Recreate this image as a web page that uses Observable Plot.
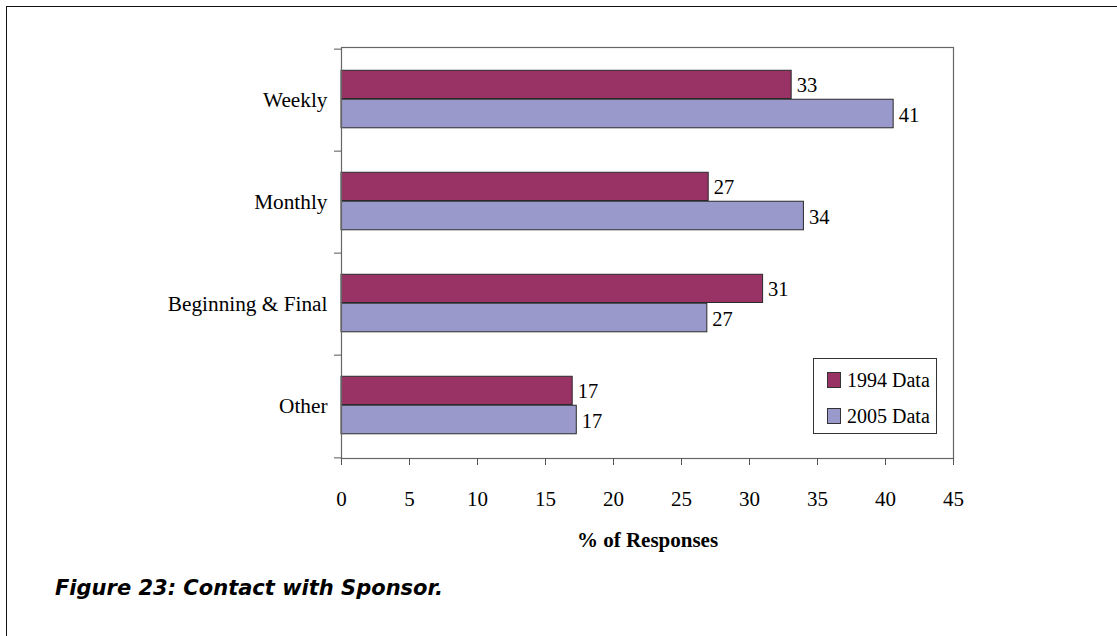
<!DOCTYPE html>
<html><head><meta charset="utf-8">
<script src="https://cdn.jsdelivr.net/npm/d3@7"></script>
<script src="https://cdn.jsdelivr.net/npm/@observablehq/plot@0.6"></script>
<style>
html,body{margin:0;padding:0;background:#fff;overflow:hidden;width:1117px;height:636px}
#wrap{position:relative;width:1117px;height:636px;overflow:hidden}
#border{position:absolute;left:6px;top:6px;width:1200px;height:800px;border:1.5px solid #111;box-sizing:border-box}
#chart{position:absolute;left:0;top:0}
#legend{position:absolute;left:813px;top:358px;width:124px;height:76px;border:1px solid #333;box-sizing:border-box;background:#fff;font-family:"Liberation Serif",serif;font-size:20px;color:#000}
.item{position:absolute;left:0;height:22px;line-height:22px;white-space:nowrap}
.sw{position:absolute;left:13px;top:3px;width:14px;height:16px;border:1px solid #333;box-sizing:border-box}
.lab{position:absolute;left:33px;top:0}
#caption{position:absolute;left:55px;top:575px;font-family:"DejaVu Sans",sans-serif;font-weight:700;font-style:italic;font-size:21px;line-height:26px;color:#000;white-space:nowrap}
</style></head><body>
<div id="wrap"><div id="border"></div><div id="chart"></div><div id="legend"></div><div id="caption"></div></div>
<script>
const categories = ["Weekly", "Monthly", "Beginning & Final", "Other"];
const series = ["1994 Data", "2005 Data"];
const values1994 = [33.1, 27.0, 31.0, 17.0];
const values2005 = [40.6, 34.0, 26.9, 17.3];
const xTicks = [0, 5, 10, 15, 20, 25, 30, 35, 40, 45];
const colors = ["#993366", "#9999CC"];
const xLabel = "% of Responses";
const caption = "Figure 23: Contact with Sponsor.";

const rows1994 = categories.map((c, i) => ({category: c, value: values1994[i]}));
const rows2005 = categories.map((c, i) => ({category: c, value: values2005[i]}));

const W = 1117, H = 570, mt = 47, mb = 112, ml = 341, mr = 164;
const step = (H - mt - mb) / categories.length;
const serif = "Liberation Serif, Times New Roman, serif";

const chart = Plot.plot({
  width: W, height: H,
  marginTop: mt, marginBottom: mb, marginLeft: ml, marginRight: mr,
  style: {fontFamily: serif, fontSize: "21px", color: "#000", background: "transparent"},
  x: {domain: [0, 45]},
  y: {domain: categories, padding: 0},
  marks: [
    Plot.barX(rows1994, {x: "value", y: "category", fill: colors[0], stroke: "#2a2a2a", strokeWidth: 1,
      insetTop: step * 0.207, insetBottom: step * 0.511}),
    Plot.barX(rows2005, {x: "value", y: "category", fill: colors[1], stroke: "#2a2a2a", strokeWidth: 1,
      insetTop: step * 0.489, insetBottom: step * 0.226}),
    Plot.frame({stroke: "#666", strokeWidth: 1.2}),
    Plot.axisX({ticks: xTicks, tickSize: 7, tickPadding: 26, tickFormat: d => String(d), label: null,
      stroke: "#555", fontSize: 21}),
    Plot.axisY({tickSize: 0, tickPadding: 14, label: null, fontSize: 21.3}),
    Plot.axisY({tickSize: 7, tickFormat: () => "", label: null, dy: -step / 2, stroke: "#555"}),
    Plot.axisY({ticks: [categories[categories.length - 1]], tickSize: 7, tickFormat: () => "", label: null, dy: step / 2, stroke: "#555"}),
    Plot.text(rows1994, {x: "value", y: "category", text: d => String(Math.round(d.value)), dx: 5, dy: -15.5,
      textAnchor: "start", fontSize: 20.5, fill: "#000"}),
    Plot.text(rows2005, {x: "value", y: "category", text: d => String(Math.round(d.value)), dx: 5, dy: 14.5,
      textAnchor: "start", fontSize: 20.5, fill: "#000"}),
    Plot.text([xLabel], {frameAnchor: "bottom", dy: 88, text: d => d, fontWeight: "bold", fontSize: 21, fill: "#000"})
  ]
});
document.getElementById("chart").appendChild(chart);

const legend = document.getElementById("legend");
series.forEach((s, i) => {
  const item = document.createElement("div");
  item.className = "item";
  item.style.top = (10 + i * 36) + "px";
  item.innerHTML = `<div class="sw" style="background:${colors[i]}"></div><span class="lab">${s}</span>`;
  legend.appendChild(item);
});
document.getElementById("caption").textContent = caption;
</script>
</body></html>
